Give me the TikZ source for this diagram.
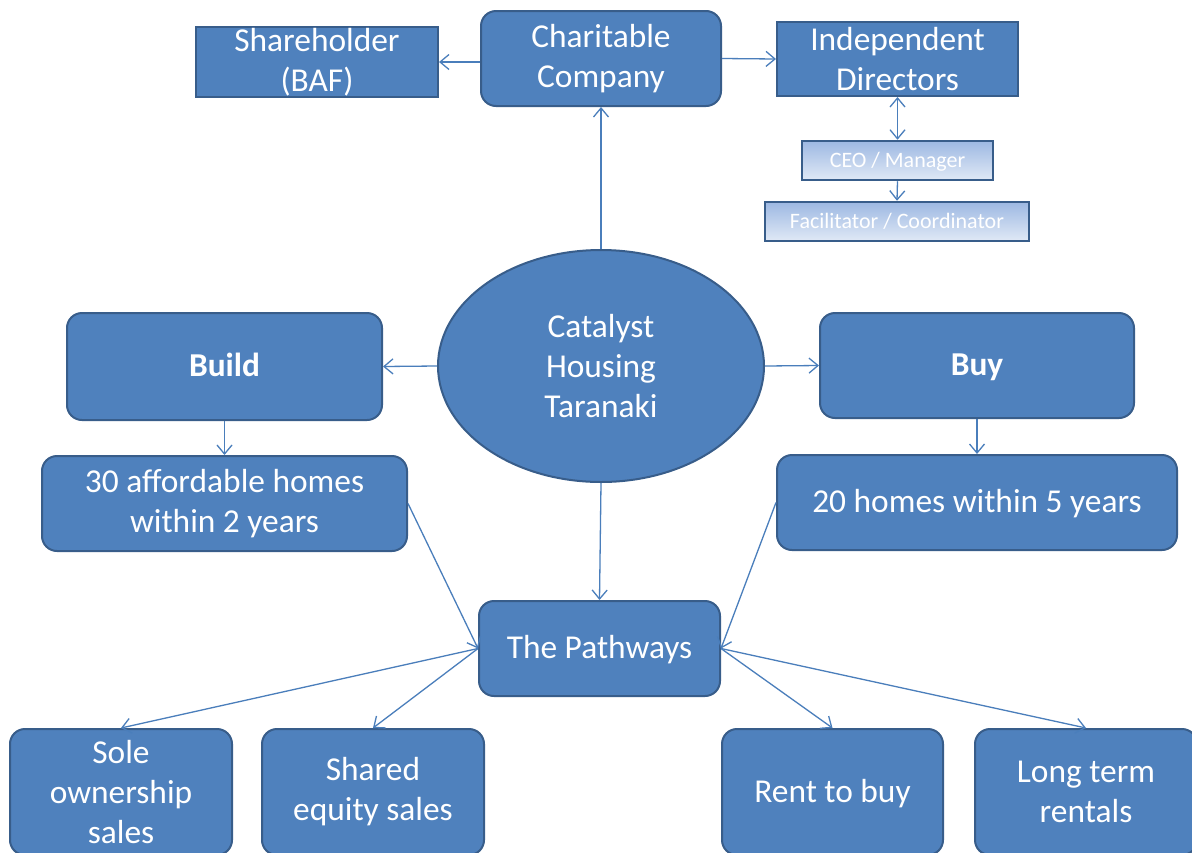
\documentclass[tikz,border=0pt]{standalone}
\usepackage{fontspec}
\setmainfont{Carlito}
\usetikzlibrary{arrows.meta,shapes.geometric}
\definecolor{fillb}{HTML}{4F81BD}
\definecolor{edgeb}{HTML}{385D8A}
\definecolor{lineb}{HTML}{4A7EBB}
\definecolor{gradtop}{HTML}{9DB8E2}
\definecolor{gradbot}{HTML}{E0E9F6}
\newcommand\bigstrut{\rule[-10pt]{0pt}{40pt}}
\newcommand\smallstrut{\rule[-6.5pt]{0pt}{26pt}}
\tikzset{
  box/.style={draw=edgeb, line width=2pt, fill=fillb, text=white,
    font=\fontsize{33.4}{40}\selectfont, align=center, inner sep=0pt},
  rbox/.style={box, rounded corners=15pt},
  oneline/.style={execute at begin node=\bigstrut},
  smallbox/.style={draw=edgeb, line width=2.5pt, top color=gradtop, bottom color=gradbot,
    text=white, font=\fontsize{22}{26}\selectfont, inner sep=0pt,
    execute at begin node=\smallstrut},
  conn/.style={draw=lineb, line width=1.3pt, -{Straight Barb[length=9pt,width=15pt]}},
  bconn/.style={draw=lineb, line width=1.3pt, {Straight Barb[length=9pt,width=15pt]}-{Straight Barb[length=9pt,width=15pt]}}
}
\begin{document}
\begin{tikzpicture}[x=1pt,y=-1pt]
\useasboundingbox (0,0) rectangle (1192,852);
\clip (0,0) rectangle (1192,852);
\fill[white] (0,0) rectangle (1192,852);

\node[box, minimum width=242, minimum height=70] (share) at (317,62) {Shareholder\\(BAF)};
\node[rbox, minimum width=240, minimum height=95] (char) at (601,58.5) {Charitable\\Company};
\node[box, minimum width=241, minimum height=74] (ind) at (897.5,59) {Independent\\Directors};
\node[smallbox, minimum width=191, minimum height=39] (ceo) at (897.5,160.5) {CEO / Manager};
\node[smallbox, minimum width=264, minimum height=39] (fac) at (897,221.5) {Facilitator / Coordinator};

\node[box, ellipse, minimum width=326, minimum height=232] (cat) at (601,366) {Catalyst\\Housing\\Taranaki};

\node[rbox, oneline, minimum width=315, minimum height=107] (build) at (224.5,366.5) {\bfseries Build};
\node[rbox, oneline, minimum width=314, minimum height=105] (buy) at (977,365.5) {\bfseries Buy};
\node[rbox, minimum width=365, minimum height=95] (aff) at (224.5,503.5) {30 affordable homes\\within 2 years};
\node[rbox, oneline, minimum width=400, minimum height=95] (h20) at (977,502.5) {20 homes within 5 years};
\node[rbox, oneline, minimum width=241, minimum height=95] (path) at (599.5,648.5) {The Pathways};

\node[rbox, minimum width=222, minimum height=126] (sole) at (121,792) {Sole\\ownership\\sales};
\node[rbox, minimum width=222, minimum height=126] (shared) at (373,792) {Shared\\equity sales};
\node[rbox, oneline, minimum width=221, minimum height=126] (rent) at (832.5,792) {Rent to buy};
\node[rbox, minimum width=222, minimum height=126] (long) at (1086,792) {Long term\\rentals};

\draw[conn] (char.west |- share.east) -- (share.east);
\draw[conn] (char.east) -- (ind.west);
\draw[bconn] (ind.south) -- (ceo.north);
\draw[conn] (ceo.south) -- (fac.north);
\draw[conn] (cat.north) -- (char.south);
\draw[conn] (cat.west) -- (build.east);
\draw[conn] (cat.east) -- (buy.west);
\draw[conn] (build.south) -- (aff.north);
\draw[conn] (buy.south) -- (h20.north);
\draw[conn] (cat.south) -- (path.north);
\draw[conn] (aff.east) -- (path.west);
\draw[conn] (h20.west) -- (path.east);
\draw[conn] (path.west) -- (sole.north);
\draw[conn] (path.west) -- (shared.north);
\draw[conn] (path.east) -- (rent.north);
\draw[conn] (path.east) -- (long.north);
\end{tikzpicture}
\end{document}
